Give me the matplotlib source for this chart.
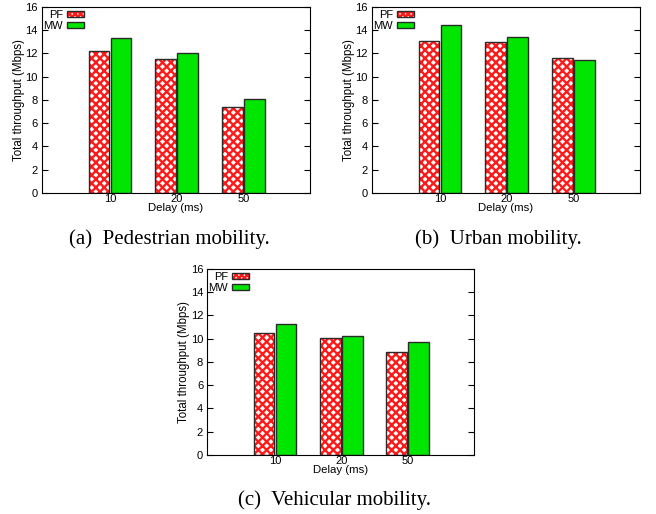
import numpy as np
import matplotlib
matplotlib.use('Agg')
import matplotlib.pyplot as plt

plt.rcParams['font.family'] = 'Liberation Sans'
plt.rcParams['hatch.linewidth'] = 1.7

delays = ['10', '20', '50']
series = ['PF', 'MW']

# throughput (Mbps) per delay
ped_pf = [12.2, 11.5, 7.4]
ped_mw = [13.3, 12.05, 8.1]
urb_pf = [13.1, 13.0, 11.6]
urb_mw = [14.45, 13.45, 11.4]
veh_pf = [10.45, 10.05, 8.85]
veh_mw = [11.25, 10.25, 9.75]

captions = ['(a)  Pedestrian mobility.', '(b)  Urban mobility.',
            '(c)  Vehicular mobility.']

fig = plt.figure(figsize=(6.56, 5.14), dpi=100)

# axes boxes in figure fractions, caption centres
boxes = [[0.064, 0.6245, 0.4085, 0.362],
         [0.567, 0.6245, 0.4085, 0.362],
         [0.316, 0.1148, 0.4066, 0.362]]
cap_xy = [(169.5 / 656, 1 - 239 / 514),
          (498 / 656, 1 - 239 / 514),
          (334 / 656, 1 - 500 / 514)]
data = [(ped_pf, ped_mw), (urb_pf, urb_mw), (veh_pf, veh_mw)]

w = 0.31
edge_c = '#2a2a2a'
green_c = '#00e600'
red_c = '#ff1a1a'
fs = 8

for box, (pf, mw), cap, cxy in zip(boxes, data, captions, cap_xy):

    ax = fig.add_axes(box)
    x = np.arange(len(delays))

    # red checker pattern, border drawn on top
    ax.bar(x - 0.165, pf, w, color='white', edgecolor=red_c, hatch='xxxx',
           linewidth=0)
    ax.bar(x - 0.165, pf, w, fill=False, edgecolor=edge_c, linewidth=1.0)
    ax.bar(x + 0.165, mw, w, color=green_c, edgecolor=edge_c, linewidth=1.0)

    ax.set_xlim(-1.02, 3.0)
    ax.set_ylim(0, 16)
    ax.set_yticks(range(0, 17, 2))
    ax.set_xticks(x)
    ax.set_xticklabels(delays)
    ax.tick_params(axis='y', direction='in', right=True, length=4,
                   labelsize=fs, pad=3, width=0.8)
    ax.tick_params(axis='x', length=0, labelsize=fs, pad=0.5)
    for s in ax.spines.values():
        s.set_linewidth(0.8)

    ax.set_xlabel('Delay (ms)', fontsize=fs + 0.2, labelpad=-0.8)
    ax.set_ylabel('Total throughput (Mbps)', fontsize=fs + 0.3, labelpad=0.2)

    # legend: label then swatch
    h1 = plt.Rectangle((0, 0), 1, 1, facecolor='white', edgecolor=red_c,
                       hatch='xxxxxx', linewidth=0)
    h1b = plt.Rectangle((0, 0), 1, 1, fill=False, edgecolor=edge_c,
                        linewidth=1.0)
    h2 = plt.Rectangle((0, 0), 1, 1, facecolor=green_c, edgecolor=edge_c,
                       linewidth=1.0)
    ax.legend([(h1, h1b), h2], series, loc='upper right', frameon=False,
              markerfirst=False, fontsize=fs, handlelength=1.55,
              handleheight=0.45, handletextpad=0.36, labelspacing=0.1,
              borderaxespad=0, borderpad=0,
              bbox_to_anchor=(0.157, 0.985))

    fig.text(cxy[0], cxy[1], cap, ha='center', va='center', fontsize=15,
             family='Liberation Serif')

fig.savefig('out.png', dpi=100)
